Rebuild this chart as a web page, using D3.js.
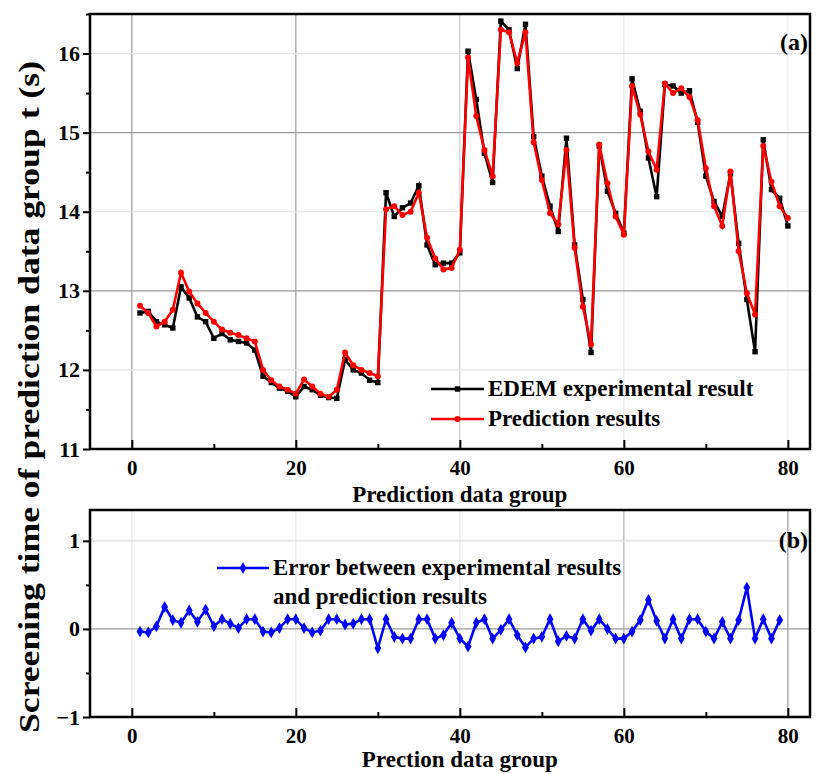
<!DOCTYPE html>
<html>
<head>
<meta charset="utf-8">
<script src="https://cdn.jsdelivr.net/npm/d3@7"></script>
<style>
  html, body { margin: 0; padding: 0; background: #fff; }
  svg text { font-family: "Liberation Serif", "Times New Roman", serif; font-weight: bold; fill: #000; }
</style>
</head>
<body>
<svg id="chart" width="821" height="774"></svg>
<script>
// Screening time per prediction group: EDEM simulation vs. model prediction
const groupIndex = d3.range(1, 81);
const edemResult = [
  12.72, 12.74, 12.61, 12.57, 12.53, 13.05, 12.91, 12.67, 12.61, 12.40,
  12.46, 12.38, 12.36, 12.34, 12.25, 11.92, 11.84, 11.77, 11.73, 11.66,
  11.79, 11.75, 11.68, 11.65, 11.64, 12.13, 12.00, 11.96, 11.87, 11.84,
  14.24, 13.94, 14.05, 14.11, 14.33, 13.58, 13.33, 13.35, 13.35, 13.48,
  16.03, 15.42, 14.74, 14.37, 16.41, 16.30, 15.81, 16.37, 14.95, 14.45,
  14.07, 13.75, 14.93, 13.58, 12.89, 12.22, 14.83, 14.26, 13.98, 13.73,
  15.68, 15.27, 14.68, 14.19, 15.61, 15.59, 15.50, 15.53, 15.13, 14.45,
  14.13, 13.94, 14.48, 13.60, 12.89, 12.23, 14.91, 14.28, 14.17, 13.82
];
const predictedResult = [
  12.81, 12.72, 12.55, 12.61, 12.76, 13.23, 12.99, 12.84, 12.72, 12.61,
  12.51, 12.47, 12.44, 12.40, 12.36, 12.00, 11.87, 11.79, 11.75, 11.70,
  11.88, 11.79, 11.70, 11.66, 11.75, 12.22, 12.06, 12.00, 11.96, 11.92,
  14.03, 14.07, 13.96, 14.00, 14.24, 13.67, 13.41, 13.27, 13.29, 13.52,
  15.95, 15.21, 14.78, 14.45, 16.30, 16.27, 15.88, 16.27, 14.88, 14.40,
  13.98, 13.84, 14.78, 13.54, 12.80, 12.32, 14.85, 14.36, 13.94, 13.71,
  15.59, 15.23, 14.76, 14.53, 15.62, 15.50, 15.56, 15.45, 15.16, 14.55,
  14.07, 13.82, 14.51, 13.50, 12.97, 12.70, 14.83, 14.38, 14.07, 13.92
];
// Error between the two, groups 1..79
const errorIndex = d3.range(1, 80);
const errorValues = [
  -0.03, -0.04, 0.03, 0.25, 0.10, 0.07, 0.21, 0.08, 0.22, 0.03,
  0.11, 0.06, 0.01, 0.11, 0.11, -0.03, -0.04, 0.01, 0.11, 0.11,
  0.01, -0.04, -0.02, 0.11, 0.11, 0.05, 0.06, 0.11, 0.11, -0.22,
  0.11, -0.09, -0.11, -0.11, 0.11, 0.11, -0.11, -0.07, 0.07, -0.11,
  -0.20, 0.07, 0.11, -0.11, -0.01, 0.11, -0.07, -0.21, -0.11, -0.09,
  0.11, -0.14, -0.08, -0.11, 0.11, -0.02, 0.11, 0.00, -0.11, -0.11,
  -0.03, 0.10, 0.33, 0.09, -0.11, 0.11, -0.11, 0.11, 0.11, -0.03,
  -0.11, 0.08, -0.11, 0.10, 0.47, -0.11, 0.11, -0.11, 0.10
];
const xTicks = [0, 20, 40, 60, 80];
const xMinorTicks = [10, 30, 50, 70];
const topYTicks = [11, 12, 13, 14, 15, 16];
const topYMinor = [11.5, 12.5, 13.5, 14.5, 15.5, 16.5];
const botYTicks = [-1, 0, 1];
const botYMinor = [-0.5, 0.5];

const svg = d3.select("#chart");
const L = 90, R = 810;
const topPanel = { top: 14, bottom: 449 };
const botPanel = { top: 510, bottom: 717 };

const x = d3.scaleLinear().domain([-5.1, 82.7]).range([L, R]);
const yTop = d3.scaleLinear().domain([11, 16.5]).range([topPanel.bottom, topPanel.top]);
const yBot = d3.scaleLinear().domain([-1, 1.35]).range([botPanel.bottom, botPanel.top]);

const fmtMinus = d => d < 0 ? "\u2212" + Math.abs(d) : String(d);

// grid lines (shade varies line to line)
function gridV(vals, y0, y1, shades) {
  svg.append("g").selectAll("line").data(vals).join("line")
    .attr("x1", d => x(d)).attr("x2", d => x(d))
    .attr("y1", y0).attr("y2", y1)
    .attr("stroke", (d, i) => shades[i]).attr("stroke-width", 1.2);
}
function gridH(vals, scale, shades) {
  svg.append("g").selectAll("line").data(vals).join("line")
    .attr("x1", L).attr("x2", R)
    .attr("y1", d => scale(d)).attr("y2", d => scale(d))
    .attr("stroke", (d, i) => shades[i]).attr("stroke-width", 1.2);
}
gridV(xTicks, topPanel.top, topPanel.bottom, ["#9a9a9a", "#9a9a9a", "#cfcfcf", "#e6e6e6", "#eeeeee"]);
gridH([12, 13, 14, 15, 16], yTop, ["#e4e4e4", "#9a9a9a", "#e4e4e4", "#9a9a9a", "#e4e4e4"]);
gridV(xTicks, botPanel.top, botPanel.bottom, ["#e8e8e8", "#e8e8e8", "#e8e8e8", "#b0b0b0", "#9a9a9a"]);
gridH([0, 1], yBot, ["#9a9a9a", "#dddddd"]);

// axes
function xAxis(yPos) {
  svg.append("g").attr("transform", `translate(0,${yPos})`)
    .call(d3.axisBottom(x).tickValues(xTicks).tickSize(-9).tickPadding(11).tickFormat(d3.format("d")))
    .call(g => g.select(".domain").remove())
    .call(g => g.selectAll("line").attr("stroke-width", 2))
    .call(g => g.selectAll("text").attr("font-size", 21));
  svg.append("g").attr("transform", `translate(0,${yPos})`)
    .call(d3.axisBottom(x).tickValues(xMinorTicks).tickSize(-5).tickFormat(""))
    .call(g => g.select(".domain").remove())
    .call(g => g.selectAll("line").attr("stroke-width", 2));
}
function yAxis(scale, ticks, minor) {
  svg.append("g").attr("transform", `translate(${L},0)`)
    .call(d3.axisLeft(scale).tickValues(ticks).tickSize(7).tickPadding(3).tickFormat(fmtMinus))
    .call(g => g.select(".domain").remove())
    .call(g => g.selectAll("line").attr("stroke-width", 2))
    .call(g => g.selectAll("text").attr("font-size", 22));
  svg.append("g").attr("transform", `translate(${L},0)`)
    .call(d3.axisLeft(scale).tickValues(minor).tickSize(4).tickFormat(""))
    .call(g => g.select(".domain").remove())
    .call(g => g.selectAll("line").attr("stroke-width", 2));
}
xAxis(topPanel.bottom);
xAxis(botPanel.bottom);
yAxis(yTop, topYTicks, topYMinor);
yAxis(yBot, botYTicks, botYMinor);

// frames
[topPanel, botPanel].forEach(p => {
  svg.append("rect").attr("x", L).attr("y", p.top)
    .attr("width", R - L).attr("height", p.bottom - p.top)
    .attr("fill", "none").attr("stroke", "#000").attr("stroke-width", 2.5);
});

// series
const lineTop = (vals) => d3.line().x((d, i) => x(groupIndex[i])).y(d => yTop(d))(vals);
svg.append("path").attr("d", lineTop(edemResult))
  .attr("fill", "none").attr("stroke", "#000").attr("stroke-width", 2.6);
svg.append("g").selectAll("rect").data(edemResult).join("rect")
  .attr("x", (d, i) => x(groupIndex[i]) - 2.7).attr("y", d => yTop(d) - 2.7)
  .attr("width", 5.4).attr("height", 5.4).attr("fill", "#000");

svg.append("path").attr("d", lineTop(predictedResult))
  .attr("fill", "none").attr("stroke", "#ff0000").attr("stroke-width", 2.6);
svg.append("g").selectAll("circle").data(predictedResult).join("circle")
  .attr("cx", (d, i) => x(groupIndex[i])).attr("cy", d => yTop(d))
  .attr("r", 3).attr("fill", "#ff0000");

const diamond = d3.symbol().type(d3.symbolDiamond).size(40);
svg.append("path")
  .attr("d", d3.line().x((d, i) => x(errorIndex[i])).y(d => yBot(d))(errorValues))
  .attr("fill", "none").attr("stroke", "#0000ff").attr("stroke-width", 2.6);
svg.append("g").selectAll("path").data(errorValues).join("path")
  .attr("transform", (d, i) => `translate(${x(errorIndex[i])},${yBot(d)})`)
  .attr("d", diamond).attr("fill", "#0000ff");

// legends
function legendItem(x0, x1, y, color, marker, label, tx) {
  svg.append("line").attr("x1", x0).attr("x2", x1).attr("y1", y).attr("y2", y)
    .attr("stroke", color).attr("stroke-width", 2.6);
  const mx = (x0 + x1) / 2;
  if (marker === "square") {
    svg.append("rect").attr("x", mx - 2.7).attr("y", y - 2.7).attr("width", 5.4).attr("height", 5.4).attr("fill", color);
  } else if (marker === "circle") {
    svg.append("circle").attr("cx", mx).attr("cy", y).attr("r", 3).attr("fill", color);
  } else {
    svg.append("path").attr("transform", `translate(${mx},${y})`).attr("d", diamond).attr("fill", color);
  }
  svg.append("text").attr("x", tx).attr("y", y + 7).attr("font-size", 23).text(label);
}
legendItem(431, 484, 389, "#000", "square", "EDEM experimental result", 488);
legendItem(431, 484, 419, "#ff0000", "circle", "Prediction results", 488);
legendItem(217, 269, 568, "#0000ff", "diamond", "Error between experimental results", 273);
svg.append("text").attr("x", 273).attr("y", 604).attr("font-size", 23).text("and prediction results");

// panel labels
svg.append("text").attr("x", 808).attr("y", 50).attr("text-anchor", "end").attr("font-size", 24).text("(a)");
svg.append("text").attr("x", 808).attr("y", 548).attr("text-anchor", "end").attr("font-size", 24).text("(b)");

// axis titles
svg.append("text").attr("x", x(40)).attr("y", 502).attr("text-anchor", "middle").attr("font-size", 23).text("Prediction data group");
svg.append("text").attr("x", x(40)).attr("y", 767).attr("text-anchor", "middle").attr("font-size", 23).text("Prection data group");
svg.append("text")
  .attr("transform", "translate(39,397) rotate(-90)")
  .attr("text-anchor", "middle").attr("font-size", 30)
  .attr("textLength", 672).attr("lengthAdjust", "spacingAndGlyphs")
  .text("Screening time of prediction data group t (s)");
</script>
</body>
</html>
